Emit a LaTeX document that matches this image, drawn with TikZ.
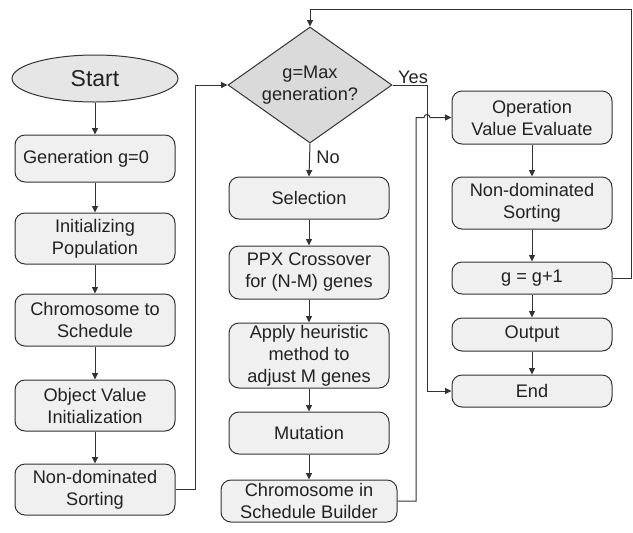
\documentclass[tikz,border=0pt]{standalone}
\usepackage{fontspec}
\setmainfont{Liberation Sans}
\usetikzlibrary{shapes.geometric,arrows.meta}
\definecolor{boxfill}{HTML}{F0F0F0}
\definecolor{dfill}{HTML}{DADADA}
\definecolor{efill}{HTML}{E6E6E6}
\definecolor{linec}{HTML}{333333}
\definecolor{textc}{HTML}{222222}
\begin{document}
\begin{tikzpicture}[x=0.5pt,y=-0.5pt,
  font=\fontsize{9.1}{11}\selectfont, line width=0.5pt, text=textc,
  box/.style={draw=linec, fill=boxfill, rounded corners=5pt, align=center, inner sep=1pt, minimum width=80pt},
  decision/.style={draw=linec, fill=dfill, shape=diamond, aspect=1.41, inner sep=0pt, minimum width=82pt, minimum height=58pt, align=center},
  terminal/.style={draw=linec, fill=efill, shape=ellipse, inner sep=0pt, minimum width=83pt, minimum height=23.5pt},
  arr/.style={draw=linec, -{Triangle[length=3.2pt,width=3pt]}},
  lbl/.style={inner sep=0pt}
]
\useasboundingbox (0,0) rectangle (633,532);
% left column
\node[terminal, font=\fontsize{11.5}{13}\selectfont] (start) at (95,78.5) {Start};
\node[box, minimum height=23.5pt] (gen) at (95,158.5) {Generation g=0\hspace{9pt}};
\node[box, minimum height=25.5pt] (init) at (95,238.5) {Initializing\\Population};
\node[box, minimum height=26pt] (chrom) at (95,320) {Chromosome to\\Schedule};
\node[box, minimum height=25.5pt] (obj) at (95,405.5) {Object Value\\Initialization};
\node[box, minimum height=25.5pt] (nds1) at (95,489.5) {Non-dominated\hspace{4pt}\\Sorting};
% middle column
\node[decision] (dec) at (310,85) {g=Max\\generation?};
\node[box, minimum height=21pt] (sel) at (309,198) {Selection};
\node[box, minimum height=26.5pt] (ppx) at (309,272.5) {PPX Crossover\\for (N-M) genes};
\node[box, minimum height=32.5pt] (app) at (309,355.5) {Apply heuristic\\method to\\adjust M genes};
\node[box, minimum height=21pt] (mut) at (309,433) {Mutation};
\node[box, minimum height=21pt, minimum width=88pt] (csb) at (309,501) {Chromosome in\\Schedule Builder};
% right column
\node[box, minimum height=26.5pt] (op) at (532,117.5) {Operation\\Value Evaluate};
\node[box, minimum height=26pt] (nds2) at (532,203) {Non-dominated\hspace{6pt}\\Sorting};
\node[box, minimum height=16pt] (gp) at (532,278) {g = g+1};
\node[box, minimum height=16.5pt] (out) at (532,334.5) {Output};
\node[box, minimum height=16pt] (end) at (532,391) {End};
% labels
\node[lbl] (yes) at (413,77) {Yes};
\node[lbl] (no) at (328,157) {No};
% coordinates
\coordinate (c1) at (195,489.5);
\coordinate (c2) at (195,85);
\coordinate (c3) at (427,85);
\coordinate (c4) at (427,391);
\coordinate (c5) at (416,501);
\coordinate (c6) at (416,117.5);
\coordinate (c7) at (424,117.5);
\coordinate (c8) at (631,278);
\coordinate (c9) at (631,9);
\coordinate (c10) at (310,9);
% connectors
\draw[arr] (start) -- (gen);
\draw[arr] (gen) -- (init);
\draw[arr] (init) -- (chrom);
\draw[arr] (chrom) -- (obj);
\draw[arr] (obj) -- (nds1);
\draw[arr] (nds1.east) -- (c1) -- (c2) -- (dec.west);
\draw[arr] (dec.south) -- (sel.north);
\draw[arr] (sel) -- (ppx);
\draw[arr] (ppx) -- (app);
\draw[arr] (app) -- (mut);
\draw[arr] (mut) -- (csb);
\draw[arr] (dec.east) -- (c3) -- (c4) -- (end.west);
\draw[arr] (csb.east) -- (c5) -- (c6) -- (c7) arc[start angle=180,end angle=0,radius=1.5pt] -- (op.west);
\draw[arr] (op) -- (nds2);
\draw[arr] (nds2) -- (gp);
\draw[arr] (gp) -- (out);
\draw[arr] (out) -- (end);
\draw[arr] (gp.east) -- (c8) -- (c9) -- (c10) -- (dec.north);
\end{tikzpicture}
\end{document}
